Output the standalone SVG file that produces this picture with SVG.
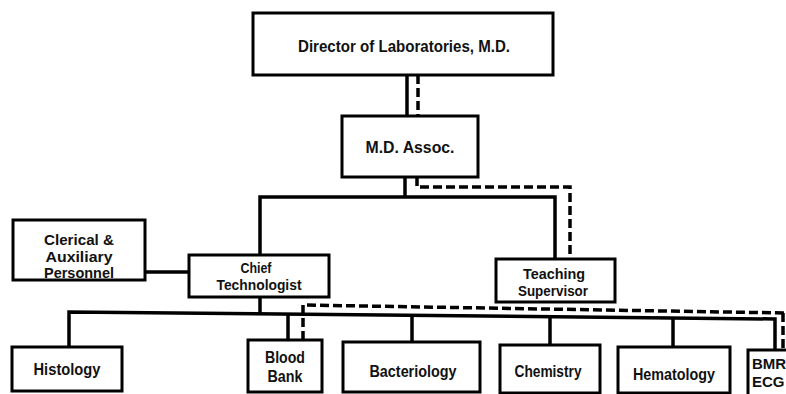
<svg xmlns="http://www.w3.org/2000/svg" width="786" height="394" viewBox="0 0 786 394">
<style>
  .box { fill: #fff; stroke: #000; stroke-width: 3; }
  .t { font-family: "Liberation Sans", Arial, sans-serif; font-weight: bold; font-size: 16px; fill: #111; text-anchor: middle; }
  .s { font-size: 15px; }
  .solid { fill: none; stroke: #000; stroke-width: 3.5; stroke-linejoin: miter; }
  .dash { fill: none; stroke: #000; stroke-width: 3.5; stroke-dasharray: 9 4; }
</style>
<rect width="786" height="394" fill="#fff"/>
<g id="connectors">
  <path class="solid" d="M407 75 V116"/>
  <path class="dash" d="M418 75 V116"/>
  <path class="solid" d="M405 177 V197"/>
  <path class="solid" d="M260 255 V197 H555 V259"/>
  <path class="dash" d="M417 177 V187 H570 V259"/>
  <path class="solid" d="M145 272 H189"/>
  <path class="solid" d="M260 297 V313"/>
  <path class="solid" d="M69 347 V312 L775 319 V350"/>
  <path class="solid" d="M288 314 V340"/>
  <path class="solid" d="M412 315.5 V342"/>
  <path class="solid" d="M550 317 V345"/>
  <path class="solid" d="M673 318 V347"/>
  <path class="dash" d="M303 340 V305 L786 313"/>
  <path class="dash" d="M783 313 V350"/>
</g>
<g id="director">
  <rect class="box" x="253" y="13" width="300" height="62"/>
  <text class="t" x="404" y="52" textLength="212" lengthAdjust="spacingAndGlyphs">Director of Laboratories, M.D.</text>
</g>
<g id="md-assoc">
  <rect class="box" x="342" y="116" width="136" height="61"/>
  <text class="t" x="410" y="153" textLength="89" lengthAdjust="spacingAndGlyphs">M.D. Assoc.</text>
</g>
<g id="clerical">
  <rect class="box" x="13" y="220" width="132" height="60"/>
  <text class="t s" x="79" y="245" textLength="70" lengthAdjust="spacingAndGlyphs">Clerical &amp;</text>
  <text class="t s" x="79" y="262" textLength="67" lengthAdjust="spacingAndGlyphs">Auxiliary</text>
  <text class="t s" x="79" y="278" textLength="70" lengthAdjust="spacingAndGlyphs">Personnel</text>
</g>
<g id="chief">
  <rect class="box" x="189" y="255" width="140" height="42"/>
  <text class="t s" x="256" y="273" textLength="31" lengthAdjust="spacingAndGlyphs">Chief</text>
  <text class="t s" x="259" y="290" textLength="85" lengthAdjust="spacingAndGlyphs">Technologist</text>
</g>
<g id="teaching">
  <rect class="box" x="496" y="259" width="119" height="43"/>
  <text class="t s" x="554" y="279" textLength="62" lengthAdjust="spacingAndGlyphs">Teaching</text>
  <text class="t s" x="553" y="296" textLength="70" lengthAdjust="spacingAndGlyphs">Supervisor</text>
</g>
<g id="histology">
  <rect class="box" x="12" y="347" width="110" height="44"/>
  <text class="t" x="67" y="375" textLength="67" lengthAdjust="spacingAndGlyphs">Histology</text>
</g>
<g id="blood-bank">
  <rect class="box" x="248" y="340" width="74" height="52"/>
  <text class="t" x="285" y="363" textLength="40" lengthAdjust="spacingAndGlyphs">Blood</text>
  <text class="t" x="285" y="382" textLength="35" lengthAdjust="spacingAndGlyphs">Bank</text>
</g>
<g id="bacteriology">
  <rect class="box" x="343" y="342" width="137" height="50"/>
  <text class="t" x="413" y="377" textLength="87" lengthAdjust="spacingAndGlyphs">Bacteriology</text>
</g>
<g id="chemistry">
  <rect class="box" x="500" y="345" width="100" height="48"/>
  <text class="t" x="548" y="377" textLength="67" lengthAdjust="spacingAndGlyphs">Chemistry</text>
</g>
<g id="hematology">
  <rect class="box" x="618" y="347" width="112" height="46"/>
  <text class="t" x="674" y="380" textLength="82" lengthAdjust="spacingAndGlyphs">Hematology</text>
</g>
<g id="bmr-ecg">
  <rect class="box" x="748" y="350" width="50" height="46"/>
  <text class="t s" x="752" y="369" style="text-anchor:start">BMR</text>
  <text class="t s" x="752" y="387" style="text-anchor:start">ECG</text>
</g>
</svg>
